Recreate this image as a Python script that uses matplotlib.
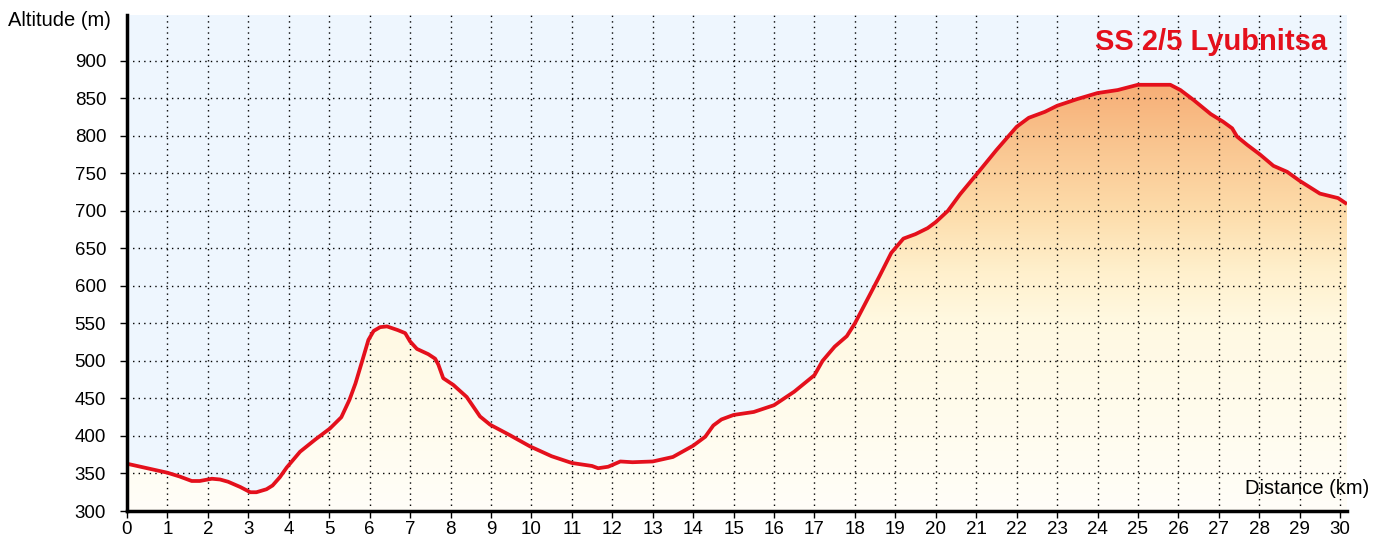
import numpy as np
import matplotlib
matplotlib.use("Agg")
import matplotlib.pyplot as plt
from matplotlib.colors import LinearSegmentedColormap
from matplotlib.patches import Polygon

plt.rcParams['font.family'] = ['Liberation Sans', 'DejaVu Sans']

distance_km = [0, 0.5, 1.0, 1.3, 1.6, 1.8, 2.1, 2.3, 2.5, 2.8, 3.05, 3.2, 3.45, 3.6,
               3.78, 3.95, 4.28, 4.65, 5.02, 5.3, 5.5, 5.65, 5.8, 5.97, 6.1, 6.26,
               6.43, 6.7, 6.88, 7.0, 7.17, 7.45, 7.62, 7.7, 7.82, 8.07, 8.4, 8.73,
               8.98, 9.47, 9.97, 10.5, 11.0, 11.5, 11.65, 11.9, 12.2, 12.5, 13.0,
               13.5, 14.0, 14.3, 14.5, 14.7, 15.0, 15.5, 16.0, 16.5, 17.0, 17.2,
               17.5, 17.8, 18.0, 18.3, 18.6, 18.9, 19.2, 19.5, 19.8, 20.0, 20.3,
               20.6, 21.0, 21.5, 22.0, 22.3, 22.7, 23.0, 23.5, 24.0, 24.5, 25.0,
               25.8, 26.05, 26.37, 26.8, 27.1, 27.33, 27.45, 27.7, 28.02, 28.35,
               28.69, 29.0, 29.5, 29.95, 30.17]
altitude_m = [363, 357, 351, 346, 340, 340, 343, 342, 339, 332, 325, 325, 329, 334,
              345, 358, 379, 395, 410, 425, 448, 470, 497, 528, 540, 545,
              546, 541, 537, 526, 516, 509, 503, 495, 477, 468, 452, 426,
              415, 401, 386, 373, 364, 360, 357, 359, 366, 365, 366,
              372, 387, 399, 414, 422, 428, 432, 441, 459, 481, 500,
              519, 533, 550, 581, 612, 644, 663, 669, 677, 685, 700,
              722, 748, 781, 812, 824, 832, 840, 849, 857, 861, 868,
              868, 861, 848, 829, 819, 810, 799, 788, 775, 760,
              752, 740, 723, 717, 709]

x_ticks = list(range(0, 31))
y_ticks = list(range(300, 901, 50))
title = "SS 2/5 Lyubnitsa"

x = np.array(distance_km)
y = np.array(altitude_m)

fig = plt.figure(figsize=(13.94, 5.36), dpi=100)
ax = fig.add_axes([127/1394, 1-511/536, (1347-127)/1394, (511-15)/536])
xmin, xmax = 0, 30.17
ymin, ymax = 300, 961
ax.set_xlim(xmin, xmax)
ax.set_ylim(ymin, ymax)
ax.set_facecolor('#eef6fe')

# gradient fill
cmap = LinearSegmentedColormap.from_list('alt', [
    (0.0, '#fffef8'),
    ((550-300)/(870-300), '#fff9e2'),
    ((620-300)/(870-300), '#fff0cc'),
    ((700-300)/(870-300), '#fddcaa'),
    ((800-300)/(870-300), '#f9c28c'),
    (1.0, '#f7ae76'),
])
grad = np.linspace(0, 1, 512).reshape(-1, 1)
im = ax.imshow(grad, extent=[xmin, xmax, 300, 870], origin='lower',
               aspect='auto', cmap=cmap, zorder=1)
poly_xy = np.vstack([np.column_stack([x, y]), [[x[-1], ymin], [x[0], ymin]]])
poly = Polygon(poly_xy, closed=True, facecolor='none', edgecolor='none',
               transform=ax.transData)
ax.add_patch(poly)
im.set_clip_path(poly)

ax.set_xticks(x_ticks)
ax.set_yticks(y_ticks)
ax.grid(True, color='black', linestyle=(0, (1, 3)), linewidth=1.0, zorder=2)
ax.set_axisbelow(False)
for gl in ax.get_xgridlines() + ax.get_ygridlines():
    gl.set_zorder(2)

ax.plot(x, y, color='#e4101c', linewidth=2.7, zorder=4,
        solid_capstyle='butt', solid_joinstyle='round')

for s in ['top', 'right']:
    ax.spines[s].set_visible(False)
for s in ['left', 'bottom']:
    ax.spines[s].set_linewidth(2.5)
    ax.spines[s].set_color('black')
    ax.spines[s].set_zorder(5)

ax.tick_params(axis='both', direction='out', length=5, width=1, colors='black',
               labelsize=13.5)
ax.tick_params(axis='y', pad=10)
ax.tick_params(axis='x', pad=2)

ax.text(29.68, 925, title, color='#e4101c',
        fontsize=21, fontweight='bold', ha='right', va='center', zorder=6)

fig.text(8/1394, 1-20/536, 'Altitude (m)', fontsize=14.5, ha='left', va='center')
fig.text(1245/1394, 1-489/536, 'Distance (km)', fontsize=14.5, ha='left', va='center')

fig.savefig('out.png', dpi=100)
